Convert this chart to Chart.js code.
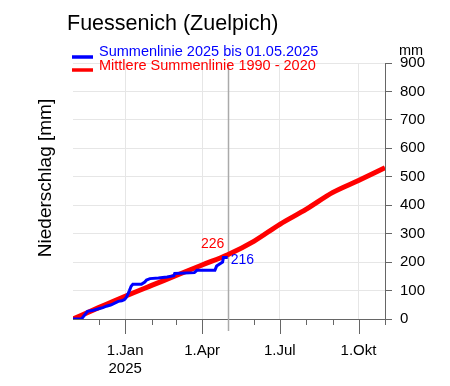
<!DOCTYPE html>
<html>
<head>
<meta charset="utf-8">
<script src="https://cdn.jsdelivr.net/npm/chart.js@4/dist/chart.umd.min.js"></script>
<style>
  body { margin: 0; background: #fff; }
  canvas { display: block; }
</style>
</head>
<body>
<canvas id="chart" width="450" height="386"></canvas>
<script>
// days counted from 1 Nov 2024
var monthStarts = [0, 30, 61, 92, 120, 151, 181, 212, 242, 273, 304, 334, 365];
var majorTicks = [61, 151, 242, 334];
var tickLabels = [['1.Jan', '2025'], '1.Apr', '1.Jul', '1.Okt'];

// mean cumulative precipitation 1990 - 2020 (mm)
var meanDays   = [0, 30, 61, 92, 120, 151, 181, 212, 242, 273, 304, 334, 365];
var meanValues = [0, 40, 80, 118, 152, 190, 226, 274, 333, 386, 445, 487, 532];

// cumulative precipitation 2025 up to 01.05.2025 (mm)
var curDays   = [0, 10, 13, 17, 24, 31, 35, 39, 44, 47, 53, 57, 60, 62, 64, 66, 68, 70, 80, 84, 86, 90, 100, 110, 118, 119, 142, 145, 166, 168, 172, 175, 176, 181];
var curValues = [0, 0, 12, 27, 31, 37, 40, 45, 49, 53, 62, 64, 68, 74, 86, 100, 115, 122, 122, 130, 137, 142, 144, 148, 152, 160, 163, 171, 171, 186, 194, 200, 216, 216];

var cutoffDay = 181;
var meanAtCutoff = 226;
var curAtCutoff = 216;

var FONT = "'Liberation Sans', Arial, sans-serif";

function toPoints(xs, ys) {
    var pts = [];
    for (var i = 0; i < xs.length; i++) {
        pts.push({x: xs[i], y: ys[i]});
    }
    return pts;
}

var decorations = {
    id: 'decorations',
    beforeDatasetsDraw: function(chart) {
        var ctx = chart.ctx;
        var x = chart.scales.x, y = chart.scales.y;
        var area = chart.chartArea;

        // x tick marks, long for quarters, short for other months
        ctx.save();
        ctx.strokeStyle = '#666';
        ctx.lineWidth = 1;
        for (var i = 0; i < monthStarts.length; i++) {
            var px = Math.round(x.getPixelForValue(monthStarts[i])) + 0.5;
            var len = majorTicks.indexOf(monthStarts[i]) >= 0 ? 15 : 6;
            if (monthStarts[i] === 0) continue;
            ctx.beginPath();
            ctx.moveTo(px, area.bottom);
            ctx.lineTo(px, area.bottom + len);
            ctx.stroke();
        }

        // date of the last value
        var cx = Math.round(x.getPixelForValue(cutoffDay)) + 0.5;
        ctx.strokeStyle = '#aaaaaa';
        ctx.lineWidth = 1.5;
        ctx.beginPath();
        ctx.moveTo(cx, area.top);
        ctx.lineTo(cx, area.bottom + 12);
        ctx.stroke();
        ctx.restore();
    },
    afterDraw: function(chart) {
        var ctx = chart.ctx;
        var x = chart.scales.x, y = chart.scales.y;
        var area = chart.chartArea;
        ctx.save();

        ctx.fillStyle = '#000';
        ctx.textBaseline = 'middle';
        ctx.textAlign = 'left';
        ctx.font = '21.5px ' + FONT;
        ctx.fillText('Fuessenich (Zuelpich)', 67, 24);

        // legend
        ctx.lineWidth = 3.5;
        ctx.strokeStyle = '#0000ff';
        ctx.beginPath(); ctx.moveTo(72, 57); ctx.lineTo(93, 57); ctx.stroke();
        ctx.strokeStyle = '#ff0000';
        ctx.beginPath(); ctx.moveTo(72, 70); ctx.lineTo(93, 70); ctx.stroke();
        ctx.font = '14.5px ' + FONT;
        ctx.fillStyle = '#0000ff';
        ctx.fillText('Summenlinie 2025 bis 01.05.2025', 99, 52);
        ctx.fillStyle = '#ff0000';
        ctx.fillText('Mittlere Summenlinie 1990 - 2020', 99, 66);

        // unit above the right axis
        ctx.fillStyle = '#000';
        ctx.textAlign = 'center';
        ctx.fillText('mm', 411, 51);

        // y title
        ctx.save();
        ctx.translate(46, 178);
        ctx.rotate(-Math.PI / 2);
        ctx.font = '19px ' + FONT;
        ctx.fillText('Niederschlag [mm]', 0, 0);
        ctx.restore();

        // right axis runs a little below the x axis
        ctx.strokeStyle = '#666';
        ctx.lineWidth = 1;
        var rx = Math.round(area.right) + 0.5;
        ctx.beginPath(); ctx.moveTo(rx, area.bottom); ctx.lineTo(rx, area.bottom + 6); ctx.stroke();

        // values at the cutoff date
        ctx.font = '14px ' + FONT;
        ctx.fillStyle = '#ff0000';
        ctx.fillText(String(meanAtCutoff), x.getPixelForValue(cutoffDay) - 15, y.getPixelForValue(meanAtCutoff) - 11);
        ctx.fillStyle = '#0000ff';
        ctx.textAlign = 'left';
        ctx.fillText(String(curAtCutoff), x.getPixelForValue(cutoffDay) + 3, y.getPixelForValue(curAtCutoff) + 3);

        ctx.restore();
    }
};

var ctx = document.getElementById('chart');
var myChart = new Chart(ctx, {
    type: 'line',
    data: {
        datasets: [{
            label: 'Summenlinie 2025 bis 01.05.2025',
            data: toPoints(curDays, curValues),
            borderColor: '#0000ff',
            borderWidth: 3,
            pointRadius: 0,
            tension: 0,
            order: 0
        }, {
            label: 'Mittlere Summenlinie 1990 - 2020',
            data: toPoints(meanDays, meanValues),
            borderColor: '#ff0000',
            borderWidth: 5,
            pointRadius: 0,
            cubicInterpolationMode: 'monotone',
            order: 1
        }]
    },
    options: {
        responsive: false,
        animation: false,
        layout: { padding: { left: 73, top: 63, right: 0, bottom: 0 } },
        plugins: {
            legend: { display: false },
            title: { display: false },
            tooltip: { enabled: false }
        },
        scales: {
            x: {
                type: 'linear',
                min: 0,
                max: 365,
                afterBuildTicks: function(scale) {
                    scale.ticks = monthStarts.map(function(v) { return {value: v}; });
                },
                afterFit: function(scale) { scale.height = 67; },
                border: { color: '#666', width: 1 },
                grid: {
                    drawTicks: false,
                    color: function(c) {
                        return (c.tick && majorTicks.indexOf(c.tick.value) >= 0) ? '#e6e6e6' : 'rgba(0,0,0,0)';
                    }
                },
                ticks: {
                    autoSkip: false,
                    maxRotation: 0,
                    padding: 23,
                    color: '#000',
                    font: { family: FONT, size: 15 },
                    callback: function(value) {
                        var i = majorTicks.indexOf(value);
                        return i >= 0 ? tickLabels[i] : '';
                    }
                }
            },
            y: {
                position: 'right',
                min: 0,
                max: 900,
                afterFit: function(scale) { scale.width = 65; },
                border: { color: '#666', width: 1 },
                grid: {
                    color: '#e6e6e6',
                    tickColor: '#666',
                    tickLength: 7
                },
                ticks: {
                    stepSize: 100,
                    padding: 8,
                    color: '#000',
                    font: { family: FONT, size: 15 }
                }
            }
        }
    },
    plugins: [decorations]
});
</script>
</body>
</html>
